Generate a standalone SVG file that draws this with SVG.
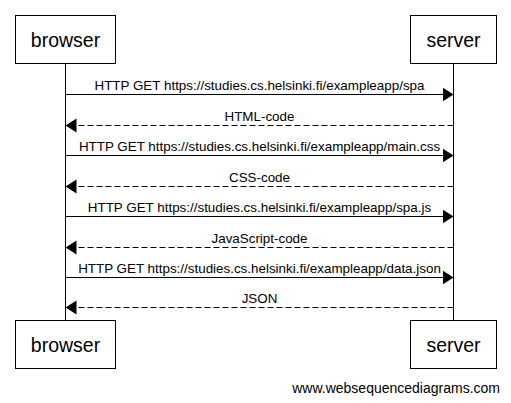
<svg xmlns="http://www.w3.org/2000/svg" width="511" height="403" viewBox="0 0 511 403">
<defs>
<marker id="ah" markerWidth="11" markerHeight="16" refX="11" refY="8" orient="auto" markerUnits="userSpaceOnUse">
<path d="M0,1 L11,8 L0,15 Z" fill="#000"/>
</marker>
<style>
.box{fill:#fff;stroke:#000;stroke-width:1}
.life{stroke:#000;stroke-width:1}
.t{font-family:"Liberation Sans",Arial,sans-serif;font-size:19.5px;text-anchor:middle;fill:#000}
.m{font-family:"Liberation Sans",Arial,sans-serif;font-size:13.4px;text-anchor:middle;fill:#000}
.req{stroke:#000;stroke-width:1;fill:none;marker-end:url(#ah)}
.res{stroke:#000;stroke-width:1;fill:none;stroke-dasharray:6,3;marker-end:url(#ah)}
</style>
</defs>
<rect width="511" height="403" fill="#fff"/>
<g id="lifelines">
<line class="life" x1="65.5" y1="63.5" x2="65.5" y2="320.5"/>
<line class="life" x1="453.5" y1="63.5" x2="453.5" y2="320.5"/>
</g>
<g id="browser-top"><rect class="box" x="15.5" y="15.5" width="100" height="48"/><text class="t" x="65.5" y="47">browser</text></g>
<g id="server-top"><rect class="box" x="410.5" y="15.5" width="86" height="48"/><text class="t" x="453.5" y="47">server</text></g>
<g id="browser-bottom"><rect class="box" x="15.5" y="320.5" width="100" height="48"/><text class="t" x="65.5" y="352">browser</text></g>
<g id="server-bottom"><rect class="box" x="410.5" y="320.5" width="86" height="48"/><text class="t" x="453.5" y="352">server</text></g>
<g id="connectors">
<line class="req" x1="65.5" y1="94.5" x2="453.5" y2="94.5"/>
<text class="m" x="259.5" y="90">HTTP GET https://studies.cs.helsinki.fi/exampleapp/spa</text>
<line class="res" x1="453.5" y1="125.5" x2="65.5" y2="125.5"/>
<text class="m" x="259.5" y="121">HTML-code</text>
<line class="req" x1="65.5" y1="155.5" x2="453.5" y2="155.5"/>
<text class="m" x="259.5" y="151">HTTP GET https://studies.cs.helsinki.fi/exampleapp/main.css</text>
<line class="res" x1="453.5" y1="186.5" x2="65.5" y2="186.5"/>
<text class="m" x="259.5" y="182">CSS-code</text>
<line class="req" x1="65.5" y1="216.5" x2="453.5" y2="216.5"/>
<text class="m" x="259.5" y="212">HTTP GET https://studies.cs.helsinki.fi/exampleapp/spa.js</text>
<line class="res" x1="453.5" y1="247.5" x2="65.5" y2="247.5"/>
<text class="m" x="259.5" y="243">JavaScript-code</text>
<line class="req" x1="65.5" y1="277.5" x2="453.5" y2="277.5"/>
<text class="m" x="259.5" y="273">HTTP GET https://studies.cs.helsinki.fi/exampleapp/data.json</text>
<line class="res" x1="453.5" y1="307.5" x2="65.5" y2="307.5"/>
<text class="m" x="259.5" y="303">JSON</text>
</g>
<text x="500" y="393" font-family="Liberation Sans, Arial, sans-serif" font-size="14" text-anchor="end">www.websequencediagrams.com</text>
</svg>
